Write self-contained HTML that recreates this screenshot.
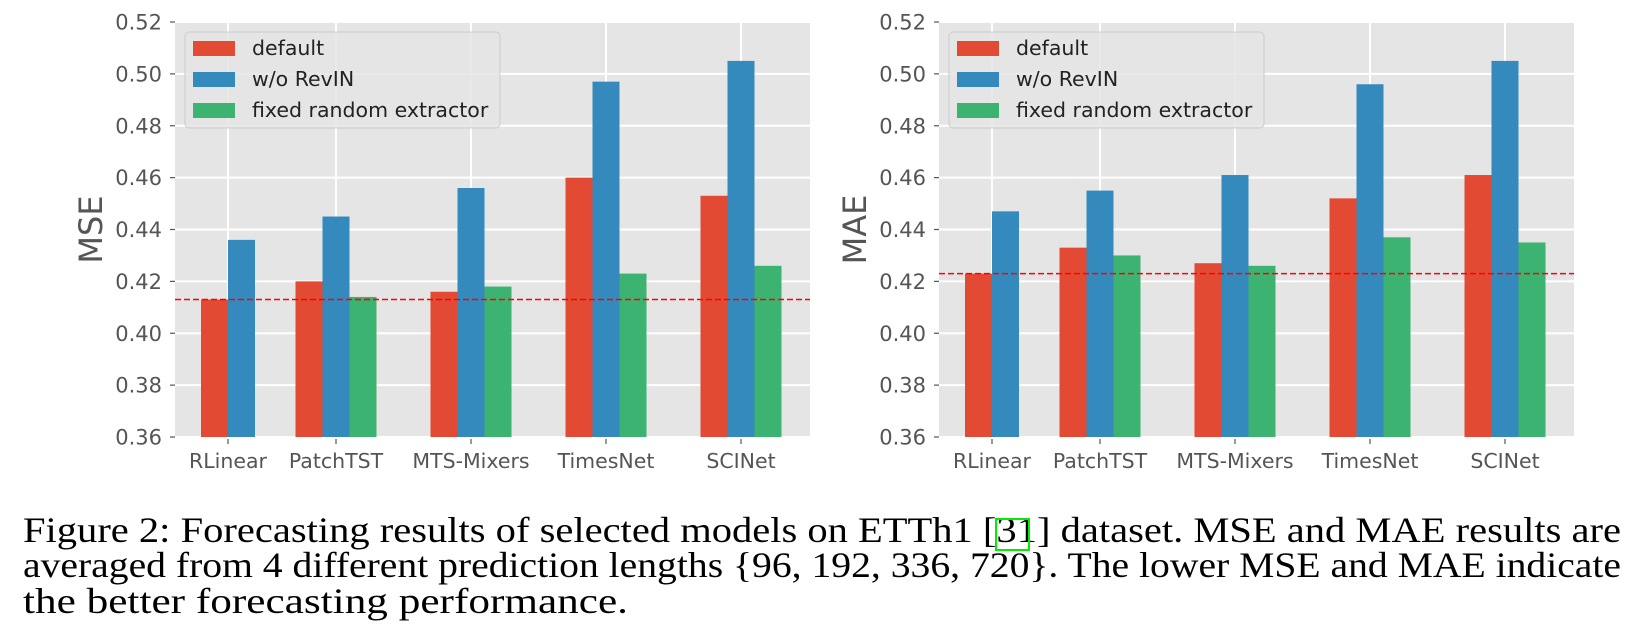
<!DOCTYPE html>
<html><head><meta charset="utf-8"><style>
html,body{margin:0;padding:0;background:#fff;}
svg{display:block;}
</style></head><body>
<svg id="fig" width="1629" height="640" xmlns="http://www.w3.org/2000/svg">
<g id="charts"></g>
<g style="font-family:'Liberation Serif', serif;" font-size="36" fill="#000">
<text x="23" y="542" textLength="1598" lengthAdjust="spacingAndGlyphs">Figure 2: Forecasting results of selected models on ETTh1 [31] dataset. MSE and MAE results are</text>
<text x="23" y="577" textLength="1598" lengthAdjust="spacingAndGlyphs">averaged from 4 different prediction lengths {96, 192, 336, 720}. The lower MSE and MAE indicate</text>
<text x="23" y="613" textLength="605" lengthAdjust="spacingAndGlyphs">the better forecasting performance.</text>
</g>
<rect x="996" y="519" width="33" height="31" fill="none" stroke="#00ee00" stroke-width="2"/>
</svg>
<script>
const categories = ["RLinear","PatchTST","MTS-Mixers","TimesNet","SCINet"];
const catPos = [0, 0.8, 1.8, 2.8, 3.8];
const seriesNames = ["default","w/o RevIN","fixed random extractor"];
const mseDefault = [0.413, 0.420, 0.416, 0.460, 0.453];
const mseNoRevin = [0.436, 0.445, 0.456, 0.497, 0.505];
const mseFixed   = [null, 0.414, 0.418, 0.423, 0.426];
const maeDefault = [0.423, 0.433, 0.427, 0.452, 0.461];
const maeNoRevin = [0.447, 0.455, 0.461, 0.496, 0.505];
const maeFixed   = [null, 0.430, 0.426, 0.437, 0.435];
const mseRef = 0.413;
const maeRef = 0.423;
const yTicks = [0.36,0.38,0.40,0.42,0.44,0.46,0.48,0.50,0.52];

const NS="http://www.w3.org/2000/svg";
const colors=["#e24a33","#348abd","#3cb371"];
const root=document.getElementById('charts');
function mk(tag,attrs,parent){const e=document.createElementNS(NS,tag);for(const k in attrs)e.setAttribute(k,attrs[k]);parent.appendChild(e);return e;}

function chart(left, title, series, ref, name){
  const g=mk('g',{},root);
  
  
  const right=left+635, top=22, bottom=437;
  const x0=left+53, s=135, bw=0.2*s;
  const X=v=>x0+v*s;
  const Y=v=>bottom-(v-0.36)/(0.52-0.36)*(bottom-top);
  const bg=mk('rect',{x:left,y:top,width:right-left,height:bottom-top,fill:'#e5e5e5'},g);
  
  
  yTicks.forEach(t=>{
    const y=Y(t);
    mk('line',{x1:left,x2:right,y1:y,y2:y,stroke:'#fff','stroke-width':2},g);
    mk('line',{x1:left-5,x2:left,y1:y,y2:y,stroke:'#555','stroke-width':1.2},g);
    const tx=mk('text',{x:left-13,y:y+7.5,'text-anchor':'end','font-family':'DejaVu Sans, sans-serif','font-size':21,fill:'#555'},g);
    tx.textContent=t.toFixed(2);
    
    
  });
  categories.forEach((c,i)=>{
    const cx = X(catPos[i]);
    mk('line',{x1:cx,x2:cx,y1:top,y2:bottom,stroke:'#fff','stroke-width':2},g);
  });
  categories.forEach((c,i)=>{
    const has3 = series[2][i]!==null;
    const n = has3?3:2;
    const start = X(catPos[i]) - (has3?1.5:1)*bw;
    for(let k=0;k<n;k++){
      const v=series[k][i];
      const r=mk('rect',{x:start+k*bw,y:Y(v),width:bw,height:bottom-Y(v),fill:colors[k]},g);
      
      
    }
    const cx=X(catPos[i]);
    mk('line',{x1:cx,x2:cx,y1:bottom+2,y2:bottom+7,stroke:'#555','stroke-width':1.2},g);
    const tl=mk('text',{x:cx,y:468,'text-anchor':'middle','font-family':'DejaVu Sans, sans-serif','font-size':20.5,fill:'#555'},g);
    tl.textContent=c;
    
    
  });
  const dl=mk('line',{x1:left,x2:right,y1:Y(ref),y2:Y(ref),stroke:'#ff0000','stroke-width':1.5,'stroke-dasharray':'6,3'},g);
  
  
  const yl=mk('text',{x:0,y:0,'text-anchor':'middle','font-family':'DejaVu Sans, sans-serif','font-size':32,fill:'#555',transform:`translate(${left-73},${(top+bottom)/2}) rotate(-90)`},g);
  yl.textContent=title;
  
  
  const lg=mk('g',{},g);
  
  
  mk('rect',{x:left+10,y:32,width:315,height:96,rx:4,fill:'#e5e5e5','fill-opacity':0.85,stroke:'#cccccc','stroke-width':1},lg);
  seriesNames.forEach((nm,k)=>{
    const yy=41+k*31;
    mk('rect',{x:left+18,y:yy,width:42,height:15,fill:colors[k]},lg);
    const t=mk('text',{x:left+77,y:yy+14,'font-family':'DejaVu Sans, sans-serif','font-size':20.5,fill:'#222'},lg);
    t.textContent=nm;
    
    
  });
}
chart(175,'MSE',[mseDefault,mseNoRevin,mseFixed],mseRef,'mse-chart');
chart(939,'MAE',[maeDefault,maeNoRevin,maeFixed],maeRef,'mae-chart');
</script>
</body></html>
